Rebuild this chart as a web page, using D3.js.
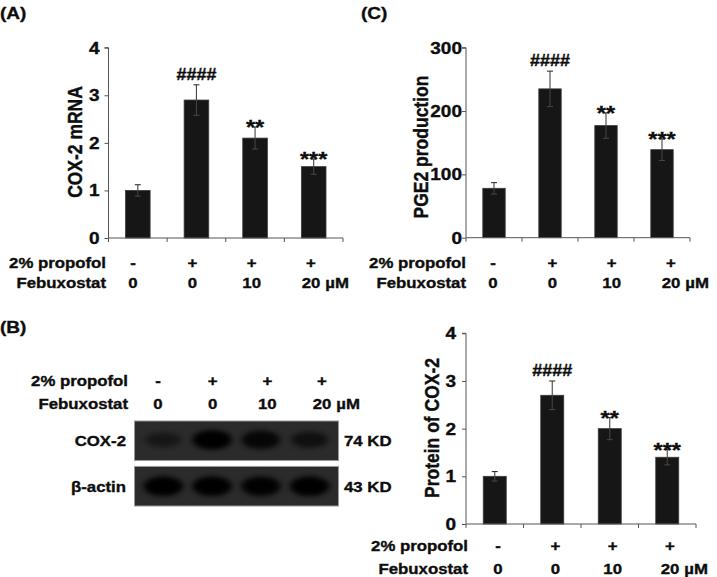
<!DOCTYPE html>
<html>
<head>
<meta charset="utf-8">
<script src="https://cdn.jsdelivr.net/npm/d3@7"></script>
<style>
  html, body { margin: 0; padding: 0; background: #fff; }
  svg { display: block; }
  text { font-family: "Liberation Sans", Arial, sans-serif; font-weight: bold; fill: #0d0d0d; stroke: #0d0d0d; stroke-width: 0.35px; }
</style>
</head>
<body>
<svg id="chart" width="717" height="577"></svg>
<script>
// ---------------- DATA ----------------
const categories = ["Control", "Propofol", "Propofol + Feb 10", "Propofol + Feb 20"];
const propofolLabels = ["-", "+", "+", "+"];
const febuxostatLabels = ["0", "0", "10", "20"];
const febuxostatUnit = "µM";
const sigLabels = ["", "####", "**", "***"];

const mrnaValues = [1.0, 2.9, 2.1, 1.5];
const mrnaErrors = [0.12, 0.32, 0.23, 0.16];
const mrnaTicks = [0, 1, 2, 3, 4];

const pge2Values = [78, 235, 177, 139];
const pge2Errors = [9, 28, 20, 17];
const pge2Ticks = [0, 100, 200, 300];

const proteinValues = [1.0, 2.7, 2.0, 1.4];
const proteinErrors = [0.1, 0.3, 0.23, 0.16];
const proteinTicks = [0, 1, 2, 3, 4];

const blotRows = ["COX-2", "β-actin"];
const blotSizes = ["74 KD", "43 KD"];
const cox2Intensity = [0.3, 1.0, 0.8, 0.5];
const actinIntensity = [1.0, 1.0, 0.95, 1.0];

// ---------------- DRAWING ----------------
const svg = d3.select("#chart");
const SX = 1.12;

function txt(g, x, y, s, size, anchor) {
  return g.append("text")
    .attr("transform", `translate(${x},${y}) scale(${SX},1)`)
    .attr("font-size", size)
    .attr("font-weight", "bold")
    .attr("text-anchor", anchor || "start")
    .text(s);
}

function rowLabels(g, cfg) {
  const px = d3.scalePoint().domain(categories).range(cfg.cols);
  txt(g, cfg.rowLabelX, cfg.rowY[0] + 5.5, "2% propofol", 15, "end");
  txt(g, cfg.rowLabelX, cfg.rowY[1] + 5.5, "Febuxostat", 15, "end");
  categories.forEach((c, i) => {
    txt(g, px(c), cfg.rowY[0] + 5.5, propofolLabels[i], 15, "middle");
    const t = txt(g, px(c), cfg.rowY[1] + 5.5, febuxostatLabels[i], 15, "middle");
    if (i === categories.length - 1) {
      const w = t.node().getComputedTextLength() * SX;
      txt(g, px(c) + w / 2 + 5, cfg.rowY[1] + 5.5, febuxostatUnit, 15, "start");
    }
  });
}

function barPanel(cfg) {
  const g = svg.append("g");
  const x = d3.scaleBand().domain(categories).range([cfg.axisX, cfg.axisEnd]).paddingInner(cfg.pad).paddingOuter(cfg.pad / 2);
  const xb = d3.scaleBand().domain(categories).range([cfg.axisX, cfg.axisEnd]);
  const y = d3.scaleLinear().domain([0, cfg.max]).range([cfg.yBot, cfg.yTop]);
  const cx = i => x(categories[i]) + x.bandwidth() / 2;

  // bars
  g.selectAll("rect.bar").data(cfg.values).join("rect")
    .attr("class", "bar")
    .attr("x", (d, i) => x(categories[i]))
    .attr("width", x.bandwidth())
    .attr("y", d => y(d))
    .attr("height", d => y(0) - y(d))
    .attr("fill", "#161616")
    .attr("stroke", "#3a3a3a")
    .attr("stroke-width", 0.8);

  // error bars
  const eb = g.selectAll("g.eb").data(cfg.values).join("g").attr("class", "eb");
  eb.append("line")
    .attr("x1", (d, i) => cx(i)).attr("x2", (d, i) => cx(i))
    .attr("y1", (d, i) => y(d - cfg.errors[i]))
    .attr("y2", (d, i) => y(d + cfg.errors[i]))
    .attr("stroke", "#444").attr("stroke-width", 1.1);
  eb.append("line")
    .attr("x1", (d, i) => cx(i) - 3).attr("x2", (d, i) => cx(i) + 3)
    .attr("y1", (d, i) => y(d + cfg.errors[i]))
    .attr("y2", (d, i) => y(d + cfg.errors[i]))
    .attr("stroke", "#333").attr("stroke-width", 1.1);
  eb.append("line")
    .attr("x1", (d, i) => cx(i) - 3).attr("x2", (d, i) => cx(i) + 3)
    .attr("y1", (d, i) => y(d - cfg.errors[i]))
    .attr("y2", (d, i) => y(d - cfg.errors[i]))
    .attr("stroke", "#444").attr("stroke-width", 1.1);

  // significance labels
  cfg.values.forEach((d, i) => {
    const s = sigLabels[i];
    if (!s) return;
    const top = y(d + cfg.errors[i]);
    if (s[0] === "#") txt(g, cx(i), top - 5, s, 16, "middle");
    else txt(g, cx(i), top + 7, s, 21, "middle");
  });

  // y axis
  const ya = d3.axisLeft(y).tickValues(cfg.ticks).tickSize(4).tickFormat("");
  const yg = g.append("g").attr("transform", `translate(${cfg.axisX},0)`).call(ya);
  yg.select(".domain").attr("stroke", "#555").attr("d", `M-4,${cfg.yTop}H0V${cfg.yBot}`);
  yg.selectAll(".tick line").attr("stroke", "#555");
  cfg.ticks.forEach(t => txt(g, cfg.axisX - 4 - cfg.tickPad, y(t) + 6, String(t), 17, "end"));

  // x axis: line with ticks at category boundaries
  g.append("line").attr("x1", cfg.axisX).attr("x2", cfg.axisEnd)
    .attr("y1", y(0)).attr("y2", y(0)).attr("stroke", "#555");
  const bounds = categories.map(c => xb(c)).concat([xb(categories[categories.length - 1]) + xb.bandwidth()]);
  g.selectAll("line.xt").data(bounds).join("line").attr("class", "xt")
    .attr("x1", d => d).attr("x2", d => d)
    .attr("y1", y(0)).attr("y2", y(0) + 4).attr("stroke", "#555");

  // y title
  g.append("text")
    .attr("transform", `translate(${cfg.titleX},${cfg.titleY}) rotate(-90) scale(1,${SX})`)
    .attr("font-size", 17.5).attr("font-weight", "bold").attr("text-anchor", "middle").text(cfg.title);

  rowLabels(g, cfg);
}

barPanel({
  axisX: 108.5, axisEnd: 343, yTop: 47.7, yBot: 238, max: 4, pad: 0.58, tickPad: 5,
  values: mrnaValues, errors: mrnaErrors, ticks: mrnaTicks,
  title: "COX-2 mRNA", titleX: 82, titleY: 142,
  cols: [133, 311], rowY: [262, 282], rowLabelX: 106
});
barPanel({
  axisX: 466, axisEnd: 690, yTop: 47.7, yBot: 237.7, max: 300, pad: 0.6, tickPad: 0,
  values: pge2Values, errors: pge2Errors, ticks: pge2Ticks,
  title: "PGE2 production", titleX: 428, titleY: 147,
  cols: [493, 671], rowY: [262, 282], rowLabelX: 466
});
barPanel({
  axisX: 466, axisEnd: 696, yTop: 333.3, yBot: 524, max: 4, pad: 0.6, tickPad: 6,
  values: proteinValues, errors: proteinErrors, ticks: proteinTicks,
  title: "Protein of COX-2", titleX: 439, titleY: 428,
  cols: [498, 670], rowY: [545, 568], rowLabelX: 468
});

// panel letters
txt(svg, 0, 19, "(A)", 17, "start");
txt(svg, 361, 19, "(C)", 17, "start");
txt(svg, 0, 333, "(B)", 17, "start");

// ---------------- WESTERN BLOT ----------------
const blot = svg.append("g");
const defs = svg.append("defs");
defs.append("filter").attr("id", "blur").attr("x", "-50%").attr("y", "-80%").attr("width", "200%").attr("height", "260%")
  .append("feGaussianBlur").attr("stdDeviation", "3.2 2.6");
defs.append("clipPath").attr("id", "clip0").append("rect").attr("x", 135).attr("y", 421).attr("width", 203).attr("height", 40);
defs.append("clipPath").attr("id", "clip1").append("rect").attr("x", 135).attr("y", 466).attr("width", 203).attr("height", 40);

rowLabels(blot, { cols: [158, 322], rowY: [380, 403], rowLabelX: 128 });

const lanes = d3.scaleBand().domain(categories).range([137, 336]).padding(0.08);
const rowsY = d3.scaleBand().domain(blotRows).range([421, 506]).paddingInner(0.13);
const intens = [cox2Intensity, actinIntensity];

blotRows.forEach((r, ri) => {
  const y0 = rowsY(r), h = rowsY.bandwidth();
  blot.append("rect").attr("x", 134.5).attr("y", y0).attr("width", 204).attr("height", h)
    .attr("fill", "#2b2b2b").attr("stroke", "#9a9a9a").attr("stroke-width", 1);
  const bg = blot.append("g").attr("clip-path", `url(#clip${ri})`);
  bg.selectAll("ellipse").data(intens[ri]).join("ellipse")
    .attr("cx", (d, i) => lanes(categories[i]) + lanes.bandwidth() / 2)
    .attr("cy", y0 + h / 2 + (ri === 0 ? -1 : 0))
    .attr("rx", (d) => lanes.bandwidth() * (0.38 + 0.06 * d))
    .attr("ry", (d) => h * (0.16 + 0.09 * d))
    .attr("fill", "#000")
    .attr("opacity", d => 0.25 + 0.75 * d)
    .attr("filter", "url(#blur)");
  txt(blot, 126, y0 + h / 2 + 5.5, r, 15, "end");
  txt(blot, 344, y0 + h / 2 + 5.5, blotSizes[ri], 15, "start");
});
</script>
</body>
</html>
